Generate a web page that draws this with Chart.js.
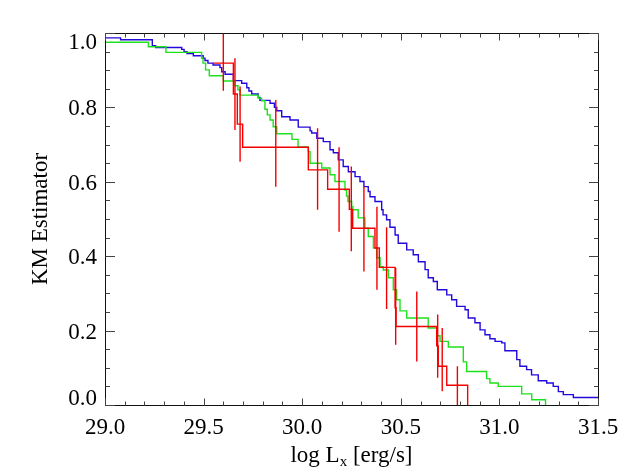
<!DOCTYPE html>
<html>
<head>
<meta charset="utf-8">
<script src="https://cdn.jsdelivr.net/npm/chart.js@4/dist/chart.umd.min.js"></script>
<style>
html,body{margin:0;padding:0;background:#fff;}
#wrap{width:629px;height:472px;position:relative;}
</style>
</head>
<body>
<div id="wrap"><canvas id="c" width="629" height="472"></canvas></div>
<script>
// ---- data (KM step curves) ----
const blueX = [29.000,29.079,29.240,29.257,29.389,29.401,29.416,29.448,29.498,29.507,29.522,29.548,29.583,29.592,29.609,29.651,29.693,29.719,29.730,29.744,29.777,29.786,29.837,29.859,29.871,29.896,29.938,29.980,30.040,30.048,30.074,30.107,30.141,30.158,30.183,30.208,30.234,30.268,30.293,30.313,30.335,30.344,30.369,30.403,30.410,30.428,30.445,30.471,30.487,30.530,30.563,30.589,30.623,30.639,30.665,30.685,30.733,30.758,30.783,30.826,30.842,30.876,30.902,30.927,30.952,30.978,31.012,31.028,31.088,31.104,31.138,31.163,31.197,31.240,31.273,31.299,31.324,31.375,31.500];
const blueY = [0.987,0.982,0.966,0.961,0.956,0.950,0.945,0.939,0.932,0.926,0.919,0.914,0.907,0.896,0.889,0.872,0.865,0.853,0.844,0.836,0.827,0.819,0.811,0.800,0.791,0.775,0.766,0.747,0.737,0.731,0.717,0.708,0.686,0.678,0.659,0.641,0.627,0.614,0.601,0.587,0.574,0.560,0.547,0.525,0.511,0.498,0.478,0.457,0.435,0.417,0.404,0.385,0.364,0.342,0.332,0.310,0.296,0.283,0.265,0.256,0.234,0.221,0.202,0.189,0.178,0.171,0.167,0.146,0.122,0.104,0.095,0.081,0.065,0.059,0.050,0.036,0.028,0.020,0.020];

const greenX = [29.000,29.220,29.309,29.490,29.497,29.510,29.529,29.600,29.659,29.674,29.685,29.777,29.794,29.811,29.823,29.837,29.853,29.871,29.948,29.979,30.031,30.040,30.099,30.141,30.166,30.217,30.225,30.232,30.251,30.257,30.284,30.318,30.335,30.361,30.378,30.395,30.411,30.437,30.462,30.479,30.496,30.530,30.639,30.682,30.699,30.741,30.817,30.834,30.935,30.952,30.994,31.113,31.164,31.234];
const greenY = [0.975,0.963,0.948,0.932,0.919,0.901,0.885,0.871,0.858,0.847,0.833,0.825,0.818,0.795,0.780,0.766,0.748,0.729,0.714,0.694,0.681,0.650,0.637,0.619,0.601,0.578,0.562,0.547,0.533,0.525,0.503,0.475,0.453,0.422,0.396,0.372,0.363,0.342,0.310,0.283,0.253,0.234,0.207,0.186,0.171,0.156,0.116,0.090,0.071,0.059,0.050,0.030,0.014,0.000];

const redX = [29.549,29.651,29.671,29.698,30.031,30.129,30.239,30.256,30.369,30.391,30.471,30.476,30.682,30.690,30.733,30.839];
const redY = [0.919,0.836,0.755,0.693,0.632,0.580,0.526,0.475,0.422,0.370,0.261,0.211,0.159,0.104,0.053,0.000];

const errX  = [29.600,29.659,29.685,29.866,30.078,30.187,30.249,30.313,30.379,30.428,30.474,30.581,30.687,30.710,30.787];
const errLo = [0.845,0.739,0.654,0.587,0.525,0.466,0.413,0.359,0.310,0.258,0.162,0.117,0.073,0.037,0.000];
const errHi = [1.000,0.932,0.856,0.820,0.744,0.693,0.641,0.587,0.533,0.478,0.368,0.305,0.243,0.207,0.104];

const xTicks = [29.0,29.5,30.0,30.5,31.0,31.5];
const yTicks = [0.0,0.2,0.4,0.6,0.8,1.0];
const xTitleMain = 'log L', xTitleSub = 'x', xTitleEnd = ' [erg/s]';
const yTitle = 'KM Estimator';

// ---- build datasets from the arrays ----
const toPts = (xs, ys) => xs.map((x, i) => ({x: x, y: ys[i]}));
const errPts = [];
errX.forEach((x, i) => { errPts.push({x: x, y: errLo[i]}, {x: x, y: errHi[i]}, {x: x, y: null}); });

const BLUE = 'rgb(35,10,220)', GREEN = 'rgb(30,225,30)', RED = 'rgb(245,0,0)';
const LW = 1.4;
const FONT = "'Liberation Serif', 'Times New Roman', serif";
Chart.defaults.font.family = FONT;
Chart.defaults.font.size = 23;
Chart.defaults.color = '#000';

const framePlugin = {
  id: 'frame',
  beforeDraw(chart) {
    // nudge the end y labels inward like the reference
    const items = chart.scales.y.getLabelItems();
    items.forEach(it => {
      const v = Number(it.label);
      let d = 2;
      if (v >= 0.999) d = 9.5;
      else if (v <= 0.001) d = -6;
      it.options.translation[1] += d;
    });
  },
  afterDraw(chart) {
    const {ctx, chartArea: a, scales: {x, y}} = chart;
    const L = Math.round(a.left) + 0.5, R = Math.round(a.right) + 0.5;
    const T = Math.round(a.top) + 0.5, B = Math.round(a.bottom) + 0.5;
    ctx.save();
    ctx.strokeStyle = '#111';
    ctx.lineWidth = 1;
    ctx.beginPath();
    ctx.rect(L, T, R - L, B - T);
    ctx.stroke();
    // inward ticks
    ctx.strokeStyle = '#444';
    ctx.beginPath();
    for (let k = 0; k <= 25; k++) {
      const v = 29 + k * 0.1;
      const px = Math.round(x.getPixelForValue(v)) + 0.5;
      const len = (k % 5 === 0) ? 7 : 4;
      ctx.moveTo(px, B); ctx.lineTo(px, B - len);
      ctx.moveTo(px, T); ctx.lineTo(px, T + len);
    }
    for (let k = 0; k <= 20; k++) {
      const v = k * 0.05;
      const py = Math.round(y.getPixelForValue(v)) + 0.5;
      const len = (k % 4 === 0) ? 9.5 : 4.5;
      ctx.moveTo(L, py); ctx.lineTo(L + len, py);
      ctx.moveTo(R, py); ctx.lineTo(R - len, py);
    }
    ctx.stroke();
    // x-axis title with subscript
    ctx.fillStyle = '#000';
    ctx.textBaseline = 'alphabetic';
    ctx.textAlign = 'left';
    const big = '23px ' + FONT, small = '15px ' + FONT;
    ctx.font = big; const w1 = ctx.measureText(xTitleMain).width; const w3 = ctx.measureText(xTitleEnd).width;
    ctx.font = small; const w2 = ctx.measureText(xTitleSub).width;
    const cx = (a.left + a.right) / 2;
    let sx = cx - (w1 + w2 + w3) / 2;
    const base = 462;
    ctx.font = big; ctx.fillText(xTitleMain, sx, base); sx += w1;
    ctx.font = small; ctx.fillText(xTitleSub, sx, base + 4); sx += w2;
    ctx.font = big; ctx.fillText(xTitleEnd, sx, base);
    ctx.restore();
  }
};

new Chart(document.getElementById('c'), {
  type: 'line',
  data: {
    datasets: [
      {label: 'err', data: errPts, borderColor: RED, borderWidth: LW, pointRadius: 0, spanGaps: false, fill: false, order: 0},
      {label: 'red', data: toPts(redX, redY), stepped: 'before', borderColor: RED, borderWidth: LW, pointRadius: 0, fill: false, order: 1},
      {label: 'green', data: toPts(greenX, greenY), stepped: 'before', borderColor: GREEN, borderWidth: LW, pointRadius: 0, fill: false, order: 2},
      {label: 'blue', data: toPts(blueX, blueY), stepped: 'before', borderColor: BLUE, borderWidth: LW, pointRadius: 0, fill: false, order: 3}
    ]
  },
  options: {
    responsive: false,
    animation: false,
    devicePixelRatio: 1,
    layout: {padding: {top: 33, right: 31, left: 0, bottom: 0}},
    plugins: {legend: {display: false}, tooltip: {enabled: false}},
    scales: {
      x: {
        type: 'linear', min: 29, max: 31.5,
        afterBuildTicks: s => { s.ticks = xTicks.map(v => ({value: v})); },
        ticks: {callback: v => Number(v).toFixed(1), color: '#000', font: {family: FONT, size: 23}, padding: 9, maxRotation: 0, autoSkip: false},
        grid: {display: false, drawTicks: false},
        border: {display: false},
        afterFit: s => { s.height = 67; }
      },
      y: {
        type: 'linear', min: 0, max: 1,
        afterBuildTicks: s => { s.ticks = yTicks.map(v => ({value: v})); },
        ticks: {callback: v => Number(v).toFixed(1), color: '#000', font: {family: FONT, size: 23}, padding: 8, autoSkip: false},
        grid: {display: false, drawTicks: false},
        border: {display: false},
        title: {display: true, text: yTitle, color: '#000', font: {family: FONT, size: 23}, padding: {top: 27, bottom: 0}},
        afterFit: s => { s.width = 105; }
      }
    }
  },
  plugins: [framePlugin]
});
</script>
</body>
</html>
